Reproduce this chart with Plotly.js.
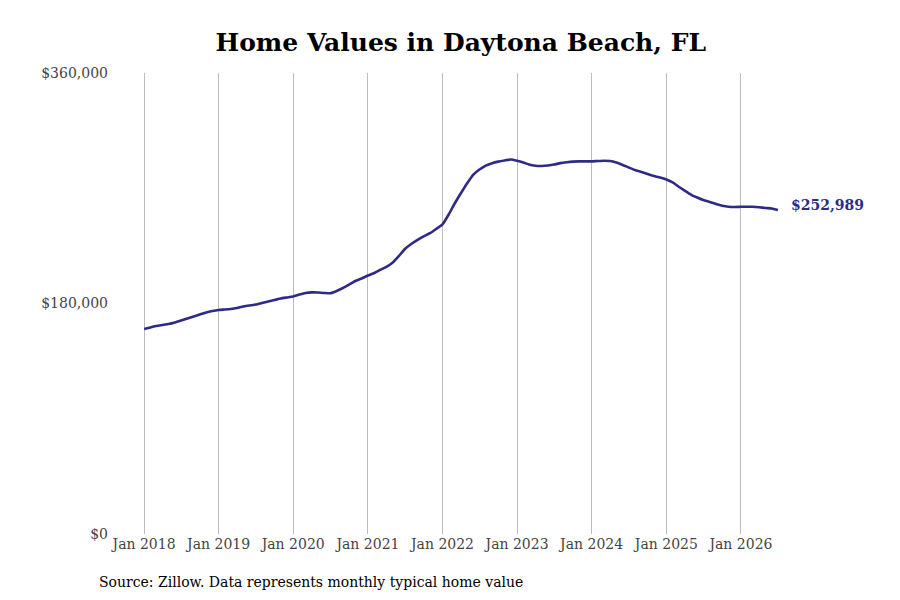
<!DOCTYPE html>
<html>
<head>
<meta charset="utf-8">
<script src="https://cdn.plot.ly/plotly-3.0.1.min.js"></script>
<style>
  html, body { margin: 0; padding: 0; background: #fff; }
  #chart { width: 900px; height: 600px; }
</style>
</head>
<body>
<div id="chart"></div>
<script>
// Monthly typical home value, Jan 2018 .. Jul 2026
const startMonth = "2018-01-01";
const homeValues = [
    // 2018
    160100, 161300, 162400, 163200, 164000, 165200, 166700, 168300, 169800, 171400, 173000, 174100,
    // 2019
    174900, 175300, 175700, 176500, 177700, 178400, 179200, 180400, 181600, 182700, 183900, 184700,
    // 2020
    185500, 187000, 188200, 188700, 188600, 188200, 188000, 189800, 192100, 194800, 197600, 199500,
    // 2021
    201900, 203800, 206200, 208600, 211800, 217000, 222600, 226500, 229700, 232500, 234900, 238200,
    // 2022
    241800, 249700, 257900, 266100, 273700, 280700, 284600, 287700, 289600, 290800, 291700, 292400,
    // 2023
    291500, 290100, 288500, 287600, 287400, 287800, 288500, 289600, 290300, 290800, 291000, 291000,
    // 2024
    291000, 291300, 291500, 291300, 290100, 288200, 286200, 284200, 282700, 281100, 279600, 278400,
    // 2025
    276800, 274500, 271400, 268200, 265100, 262800, 260800, 259300, 257700, 256400, 255600, 255400,
    // 2026
    255500, 255600, 255500, 255100, 254600, 254200, 252989,
];
const yTicks = [0, 180000, 360000];
const yTickLabels = ["$0", "$180,000", "$360,000"];

const LINE_COLOR = "#2e2a86";
const FONT = "DejaVu Serif, serif";

// one date per value, monthly from startMonth
const dates = homeValues.map((_, i) => {
    const y = 2018 + Math.floor(i / 12);
    const m = (i % 12) + 1;
    return `${y}-${String(m).padStart(2, "0")}-01`;
});
const lastIdx = homeValues.length - 1;

const trace = {
    x: dates,
    y: homeValues,
    type: "scatter",
    mode: "lines",
    line: { color: LINE_COLOR, width: 2.6, shape: "spline", smoothing: 0.5 },
    hoverinfo: "skip",
};

const layout = {
    width: 900,
    height: 600,
    paper_bgcolor: "#fff",
    plot_bgcolor: "#fff",
    margin: { t: 73, b: 66, l: 112, r: 88 },
    font: { family: FONT, size: 14, color: "#444" },
    showlegend: false,
    title: {
        text: "<b>Home Values in Daytona Beach, FL</b>",
        font: { family: FONT, size: 25, color: "#000" },
        x: 0.512, xanchor: "center",
        y: 0.93, yanchor: "middle",
    },
    xaxis: {
        type: "date",
        range: ["2017-07-28", "2026-12-15"],
        tick0: startMonth,
        dtick: "M12",
        tickformat: "%b %Y",
        showgrid: true,
        gridcolor: "#bdbdbd",
        gridwidth: 1,
        zeroline: false,
        showline: false,
        ticks: "",
        tickfont: { family: FONT, size: 14, color: "#444" },
    },
    yaxis: {
        range: [0, 360000],
        tickvals: yTicks,
        ticktext: yTickLabels,
        showgrid: false,
        zeroline: false,
        showline: false,
        ticks: "",
        ticklabelstandoff: 3,
        tickfont: { family: FONT, size: 14, color: "#444" },
    },
    annotations: [
        {
            x: dates[lastIdx], y: homeValues[lastIdx],
            xref: "x", yref: "y",
            text: "<b>$" + homeValues[lastIdx].toLocaleString("en-US") + "</b>",
            showarrow: false,
            xanchor: "left", yanchor: "middle",
            xshift: 11, yshift: 5,
            font: { family: FONT, size: 14, color: LINE_COLOR },
        },
        {
            x: 97, y: 582,
            xref: "paper", yref: "paper",
            text: "Source: Zillow. Data represents monthly typical home value",
            showarrow: false,
            xanchor: "left", yanchor: "middle",
            font: { family: FONT, size: 14, color: "#000" },
        },
    ],
};

// place the source line in pixel terms relative to the plot area
const plotW = layout.width - layout.margin.l - layout.margin.r;
const plotH = layout.height - layout.margin.t - layout.margin.b;
const src = layout.annotations[1];
src.x = (src.x - layout.margin.l) / plotW;
src.y = (layout.height - layout.margin.b - src.y) / plotH;

Plotly.newPlot("chart", [trace], layout, { staticPlot: true });
</script>
</body>
</html>
